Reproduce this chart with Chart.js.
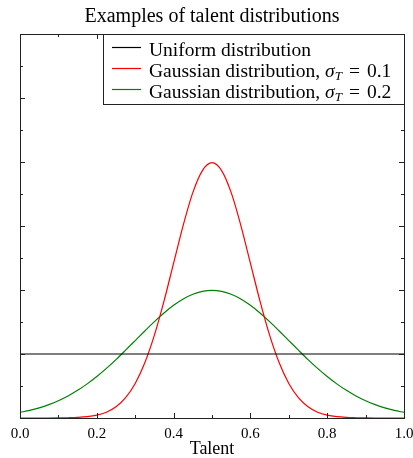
<!DOCTYPE html>
<html>
<head>
<meta charset="utf-8">
<script src="https://cdn.jsdelivr.net/npm/chart.js@4"></script>
<style>
  html, body { margin: 0; padding: 0; background: #fff; }
  #wrap { width: 413px; height: 458px; }
</style>
</head>
<body>
<div id="wrap"><canvas id="talentChart" width="413" height="458"></canvas></div>
<script>
const serif = "'Liberation Serif', 'DejaVu Serif', serif";

// talent values sampled along the x axis
const talent = [0, 0.025, 0.05, 0.075, 0.1, 0.125, 0.15, 0.175, 0.2, 0.225, 0.25, 0.275, 0.3, 0.325, 0.35, 0.375, 0.4, 0.425, 0.45, 0.475,
                0.5, 0.525, 0.55, 0.575, 0.6, 0.625, 0.65, 0.675, 0.7, 0.725, 0.75, 0.775, 0.8, 0.825, 0.85, 0.875, 0.9, 0.925, 0.95, 0.975, 1];

const uniformX = [0, 1];
const uniformY = [1, 1];

// sigma_T = 0.1
const gauss01 = [0, 0, 0, 0, 0.001, 0.004, 0.009, 0.020, 0.044, 0.091, 0.175, 0.317, 0.540, 0.863, 1.295, 1.826, 2.420, 3.011, 3.521, 3.866,
                 3.989, 3.866, 3.521, 3.011, 2.420, 1.826, 1.295, 0.863, 0.540, 0.317, 0.175, 0.091, 0.044, 0.020, 0.009, 0.004, 0.001, 0, 0, 0, 0];

// sigma_T = 0.2
const gauss02 = [0.088, 0.119, 0.159, 0.209, 0.270, 0.344, 0.432, 0.533, 0.648, 0.775, 0.913, 1.060, 1.210, 1.360, 1.506, 1.641, 1.760, 1.859, 1.933, 1.979,
                 1.995, 1.979, 1.933, 1.859, 1.760, 1.641, 1.506, 1.360, 1.210, 1.060, 0.913, 0.775, 0.648, 0.533, 0.432, 0.344, 0.270, 0.209, 0.159, 0.119, 0.088];

const xTicks = [0, 0.2, 0.4, 0.6, 0.8, 1.0];

const legendLabels = [
    { text: "Uniform distribution", sigma: null },
    { text: "Gaussian distribution, ", sigma: "0.1" },
    { text: "Gaussian distribution, ", sigma: "0.2" },
];

// frame with inward ticks on all four sides
const frameTicks = {
    id: "frameTicks",
    afterDatasetsDraw(chart) {
        const { ctx, chartArea: a, scales } = chart;
        ctx.save();
        ctx.strokeStyle = "#222";
        ctx.lineWidth = 1;
        ctx.beginPath();
        for (let v = 0; v <= 10; v++) {
            const x = Math.round(scales.x.getPixelForValue(v / 10)) + 0.5;
            const len = v % 2 === 0 ? 5 : 3;
            ctx.moveTo(x, a.bottom); ctx.lineTo(x, a.bottom - len);
            ctx.moveTo(x, a.top); ctx.lineTo(x, a.top + len);
        }
        for (let v = 0; v <= 12; v++) {
            const y = Math.round(scales.y.getPixelForValue(v / 2)) + 0.5;
            const len = v % 2 === 0 ? 5 : 3;
            ctx.moveTo(a.left, y); ctx.lineTo(a.left + len, y);
            ctx.moveTo(a.right, y); ctx.lineTo(a.right - len, y);
        }
        ctx.stroke();
        ctx.strokeRect(Math.round(a.left) + 0.5, Math.round(a.top) + 0.5,
                       Math.round(a.right - a.left), Math.round(a.bottom - a.top));
        ctx.restore();
    },
};

// legend box in the upper right corner of the plot
const boxLegend = {
    id: "boxLegend",
    afterDraw(chart) {
        const { ctx, chartArea: a } = chart;
        const left = a.left + 83, top = a.top, right = a.right, bottom = a.top + 70;
        ctx.save();
        ctx.fillStyle = "#fff";
        ctx.fillRect(left, top, right - left, bottom - top);
        ctx.strokeStyle = "#222";
        ctx.lineWidth = 1;
        ctx.strokeRect(Math.round(left) + 0.5, Math.round(top) + 0.5, Math.round(right - left), Math.round(bottom - top));
        ctx.textBaseline = "alphabetic";
        chart.data.datasets.forEach((ds, i) => {
            const yMid = top + 13 + i * 21;
            ctx.strokeStyle = ds.borderColor;
            ctx.lineWidth = 1.2;
            ctx.beginPath();
            ctx.moveTo(left + 9, yMid + 0.5);
            ctx.lineTo(left + 38, yMid + 0.5);
            ctx.stroke();
            const lab = legendLabels[i];
            let x = left + 46;
            const base = yMid + 9;
            ctx.fillStyle = "#000";
            ctx.font = "19.5px " + serif;
            ctx.fillText(lab.text, x, base);
            x += ctx.measureText(lab.text).width;
            if (lab.sigma) {
                ctx.font = "italic 19.5px " + serif;
                ctx.fillText("σ", x, base);
                x += ctx.measureText("σ").width;
                ctx.font = "italic 13px " + serif;
                ctx.fillText("T", x, base + 3);
                x += ctx.measureText("T").width + 7;
                ctx.font = "19.5px " + serif;
                ctx.fillText("=", x, base);
                x += ctx.measureText("=").width + 7;
                ctx.fillText(lab.sigma, x, base);
            }
        });
        ctx.restore();
    },
};

const toPoints = (xs, ys) => xs.map((x, i) => ({ x: x, y: ys[i] }));

new Chart(document.getElementById("talentChart"), {
    type: "line",
    data: {
        datasets: [
            {
                label: "Uniform distribution",
                data: toPoints(uniformX, uniformY),
                borderColor: "#000000",
            },
            {
                label: "Gaussian distribution, σT = 0.1",
                data: toPoints(talent, gauss01),
                borderColor: "#ff0000",
            },
            {
                label: "Gaussian distribution, σT = 0.2",
                data: toPoints(talent, gauss02),
                borderColor: "#008000",
            },
        ],
    },
    options: {
        responsive: false,
        animation: false,
        devicePixelRatio: 1,
        parsing: false,
        elements: {
            point: { radius: 0 },
            line: { borderWidth: 1.2, cubicInterpolationMode: "monotone" },
        },
        layout: { padding: { left: 20, right: 9, top: 0, bottom: 0 } },
        scales: {
            x: {
                type: "linear",
                min: 0,
                max: 1,
                afterBuildTicks: (axis) => { axis.ticks = xTicks.map((v) => ({ value: v })); },
                afterFit: (axis) => {
                    axis.height = 40;
                    axis.paddingLeft = 0;
                    axis.paddingRight = 0;
                },
                ticks: {
                    callback: (v) => v.toFixed(1),
                    color: "#000",
                    font: { family: serif, size: 15 },
                    padding: 7,
                    maxRotation: 0,
                },
                grid: { display: false, drawTicks: false },
                border: { display: false },
                title: {
                    display: true,
                    text: "Talent",
                    color: "#000",
                    font: { family: serif, size: 18, lineHeight: 1 },
                    padding: { top: 0, bottom: 0 },
                },
            },
            y: {
                min: 0,
                max: 6,
                display: false,
            },
        },
        plugins: {
            legend: { display: false },
            tooltip: { enabled: false },
            title: {
                display: true,
                text: "Examples of talent distributions",
                color: "#000",
                font: { family: serif, size: 20, weight: "normal" },
                padding: { top: 5, bottom: 5 },
            },
        },
    },
    plugins: [frameTicks, boxLegend],
});
</script>
</body>
</html>
